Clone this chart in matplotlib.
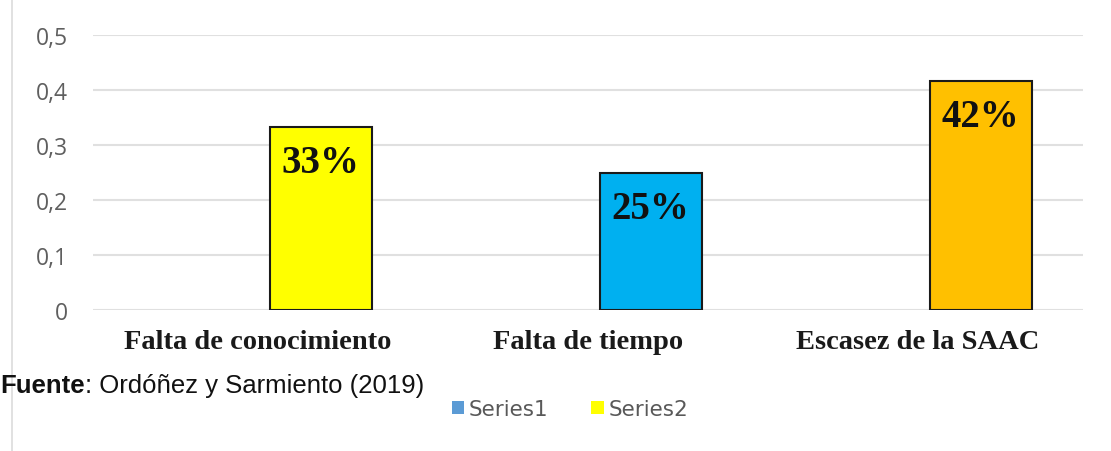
import matplotlib.pyplot as plt
from matplotlib.patches import Patch
from matplotlib.lines import Line2D

categories = ['Falta de conocimiento', 'Falta de tiempo', 'Escasez de la SAAC']
values = [0.3333, 0.25, 0.4167]
labels = ['33%', '25%', '42%']
bar_colors = ['#FFFF00', '#00B0F0', '#FFC000']
yticks = [0, 0.1, 0.2, 0.3, 0.4, 0.5]
ytick_labels = ['0', '0,1', '0,2', '0,3', '0,4', '0,5']

fig = plt.figure(figsize=(11.11, 4.52), dpi=100)
ax = fig.add_axes([93 / 1111, 1 - 311 / 452, 990 / 1111, 275 / 452])

x = list(range(len(categories)))
# bars sit in the second-series slot, right of the category centre
bar_x = [i + 0.19 for i in x]
bars = ax.bar(bar_x, values, width=0.31, color=bar_colors, edgecolor='#1a1a1a', linewidth=1.5, zorder=3)

for rect, lab in zip(bars, labels):
    ax.annotate(lab, (rect.get_x() + rect.get_width() / 2, rect.get_height()),
                xytext=(0, -26), textcoords='offset points', ha='center', va='center',
                fontsize=28, fontweight='bold', family='Liberation Serif', color='#111111')

ax.set_xlim(-0.5, 2.5)
ax.set_ylim(0, 0.5)
ax.set_yticks(yticks)
ax.set_yticklabels(ytick_labels, fontsize=16.5, color='#5f5f5f', family='Open Sans')
ax.set_xticks(x)
ax.set_xticklabels(categories, fontsize=20.5, fontweight='bold', family='Liberation Serif', color='#1a1a1a')
ax.tick_params(axis='both', length=0)
ax.tick_params(axis='y', pad=18)
ax.tick_params(axis='x', pad=14)
ax.grid(axis='y', color='#e0e0e0', linewidth=1.5, zorder=0)
for s in ax.spines.values():
    s.set_visible(False)

# thin frame line at the left edge
fig.add_artist(Line2D([12 / 1111, 12 / 1111], [0, 1], color='#dcdcdc', linewidth=1.2))

src_y = 1 - 386 / 452
t1 = fig.text(0, src_y, 'Fuente', fontsize=18.5, fontweight='bold',
              family='Liberation Sans', va='center', ha='left', color='#111111')
fig.canvas.draw()
bb = t1.get_window_extent()
fig.text(bb.x1 / 1111, src_y, ': Ordóñez y Sarmiento (2019)', fontsize=18.5,
         family='Liberation Sans', va='center', ha='left', color='#111111')

handles = [Patch(facecolor='#5B9BD5', label='Series1'), Patch(facecolor='#FFFF00', label='Series2')]
leg = fig.legend(handles=handles, loc='center', bbox_to_anchor=(570 / 1111, 1 - 410 / 452), ncol=2,
                 frameon=False, fontsize=15.5, handlelength=0.6, handleheight=0.6, handletextpad=0.2,
                 columnspacing=2.0)
for t in leg.get_texts():
    t.set_color('#595959')

fig.savefig('out.png', dpi=100)
